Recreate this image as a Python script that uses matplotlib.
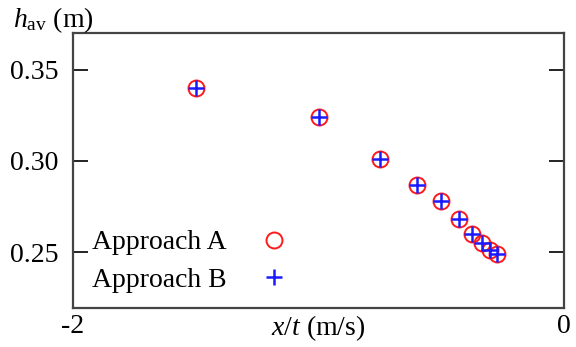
import matplotlib
matplotlib.use("Agg")
import matplotlib.pyplot as plt

plt.rcParams["font.family"] = ["Liberation Serif", "DejaVu Serif"]
plt.rcParams["mathtext.fontset"] = "custom"
plt.rcParams["mathtext.rm"] = "Liberation Serif"
plt.rcParams["mathtext.it"] = "Liberation Serif:italic"

# speed x/t (m/s) and average depth h_av (m)
speed_a = [-1.5, -1.0, -0.75, -0.6, -0.5, -0.4286, -0.375, -0.3333, -0.3, -0.2727]
depth_a = [0.340, 0.324, 0.301, 0.287, 0.278, 0.268, 0.260, 0.255, 0.251, 0.249]
speed_b = [-1.5, -1.0, -0.75, -0.6, -0.5, -0.4286, -0.375, -0.3333, -0.3, -0.2727]
depth_b = [0.340, 0.324, 0.301, 0.287, 0.278, 0.268, 0.260, 0.255, 0.251, 0.249]

yticks = [0.25, 0.30, 0.35]
ytick_labels = ["0.25", "0.30", "0.35"]
xticks = [-2, 0]
xtick_labels = ["-2", "0"]

W, H, DPI = 576, 347, 100
fig = plt.figure(figsize=(W / DPI, H / DPI), dpi=DPI)
left, right, top, bottom = 73, 564, 33, 308
ax = fig.add_axes([left / W, 1 - bottom / H, (right - left) / W, (bottom - top) / H])

fs = 20
ax.plot(speed_a, depth_a, linestyle="none", marker="o", markersize=11.5,
        markerfacecolor="none", markeredgecolor="#ff1a1a", markeredgewidth=1.4,
        label="Approach A")
ax.plot(speed_b, depth_b, linestyle="none", marker="+", markersize=11,
        color="#1a1aff", markeredgewidth=1.8, label="Approach B")

ax.set_xlim(-2, 0)
ax.set_ylim(0.2195, 0.370)
ax.set_yticks(yticks, ytick_labels)
ax.set_xticks(xticks, xtick_labels)

ax.tick_params(axis="y", which="both", direction="in", length=10.5, width=1.4,
               color="#222222", left=True, right=True, labelsize=fs, pad=10.5)
ax.tick_params(axis="x", length=0, labelsize=fs, pad=4)
for s in ax.spines.values():
    s.set_linewidth(1.6)
    s.set_color("#444444")

ax.set_xlabel(r"$x/t$ (m/s)", fontsize=fs)
ax.xaxis.set_label_coords(0.5, -0.018)
fig.text(13 / W, 1 - 27 / H, r"$h_{\mathrm{av}}$ (m)", fontsize=fs,
         ha="left", va="baseline")

leg = ax.legend(loc="lower left", bbox_to_anchor=(0.039, 0.056), frameon=False,
                markerfirst=False, fontsize=fs, handlelength=1.0,
                handletextpad=1.2, labelspacing=0.42, borderpad=0,
                borderaxespad=0)

fig.savefig("out.png", dpi=DPI)
